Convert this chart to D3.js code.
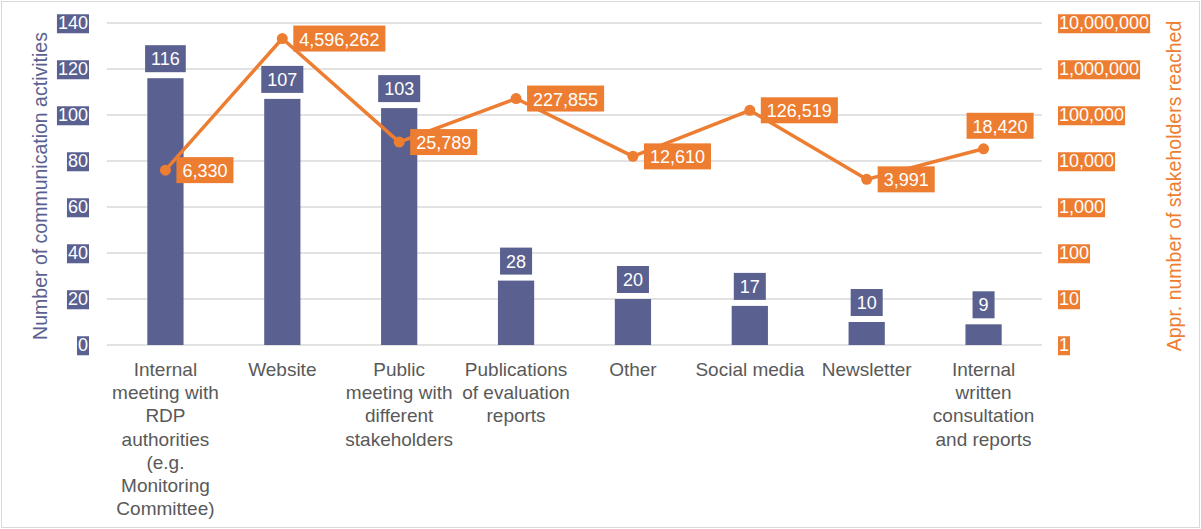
<!DOCTYPE html>
<html>
<head>
<meta charset="utf-8">
<script src="https://cdn.jsdelivr.net/npm/d3@7"></script>
<style>
  body { margin: 0; background: #fff; }
  svg { display: block; font-family: "Liberation Sans", Arial, sans-serif; }
</style>
</head>
<body>
<div id="chart"></div>
<script>
// data
var categories = [
  "Internal\nmeeting with\nRDP\nauthorities\n(e.g.\nMonitoring\nCommittee)",
  "Website",
  "Public\nmeeting with\ndifferent\nstakeholders",
  "Publications\nof evaluation\nreports",
  "Other",
  "Social media",
  "Newsletter",
  "Internal\nwritten\nconsultation\nand reports"
];
var activities = [116, 107, 103, 28, 20, 17, 10, 9];
var reached = [6330, 4596262, 25789, 227855, 12610, 126519, 3991, 18420];
var leftTicks = [0, 20, 40, 60, 80, 100, 120, 140];
var rightTicks = [1, 10, 100, 1000, 10000, 100000, 1000000, 10000000];

var W = 1201, H = 529;
var blue = "#5a6190", orange = "#ed7d31", grid = "#d9d9d9", grey = "#595959";

var svg = d3.select("#chart").append("svg").attr("width", W).attr("height", H);

// outer frame
svg.append("rect").attr("x", 1.5).attr("y", 1.5).attr("width", W - 3).attr("height", H - 3)
  .attr("fill", "#fff").attr("stroke", grid);

var plotL = 107, plotR = 1042, plotT = 23, plotB = 345;

var x = d3.scaleBand().domain(d3.range(categories.length)).range([plotL, plotR])
  .paddingInner(0.69).paddingOuter(0.345);
var y = d3.scaleLinear().domain([0, 140]).range([plotB, plotT]);
var yLog = d3.scaleLog().domain([1, 10000000]).range([plotB, plotT]);

// gridlines
svg.append("g").selectAll("line").data(leftTicks).enter().append("line")
  .attr("x1", plotL).attr("x2", plotR)
  .attr("y1", function(d) { return y(d); }).attr("y2", function(d) { return y(d); })
  .attr("stroke", grid).attr("stroke-width", 1.5);

// left axis with boxed labels
var gl = svg.append("g").attr("transform", "translate(" + 89 + ",0)")
  .call(d3.axisLeft(y).tickValues(leftTicks).tickSize(0).tickPadding(1));
gl.select(".domain").remove();
gl.selectAll("text").attr("font-size", 18).attr("fill", "#fff");
gl.attr("font-family", null);
gl.selectAll(".tick").each(function() {
  var t = d3.select(this).select("text");
  var b = t.node().getBBox();
  d3.select(this).insert("rect", "text")
    .attr("x", b.x - 1).attr("y", b.y + 1).attr("width", b.width + 2).attr("height", b.height - 1)
    .attr("fill", blue);
});

// right axis with boxed labels
var gr = svg.append("g").attr("transform", "translate(" + 1058 + ",0)")
  .call(d3.axisRight(yLog).tickValues(rightTicks).tickFormat(d3.format(",")).tickSize(0).tickPadding(1));
gr.select(".domain").remove();
gr.selectAll("text").attr("font-size", 18).attr("fill", "#fff");
gr.attr("font-family", null);
gr.selectAll(".tick").each(function() {
  var t = d3.select(this).select("text");
  var b = t.node().getBBox();
  d3.select(this).insert("rect", "text")
    .attr("x", b.x - 1).attr("y", b.y + 1).attr("width", b.width + 2).attr("height", b.height - 1)
    .attr("fill", orange);
});

// bars
svg.append("g").selectAll("rect").data(activities).enter().append("rect")
  .attr("x", function(d, i) { return x(i); })
  .attr("y", function(d) { return y(d); })
  .attr("width", x.bandwidth())
  .attr("height", function(d) { return plotB - y(d); })
  .attr("fill", blue);

// bar labels
var bl = svg.append("g").selectAll("g").data(activities).enter().append("g");
bl.each(function(d, i) {
  var g = d3.select(this);
  var cx = x(i) + x.bandwidth() / 2;
  var t = g.append("text").text(d).attr("x", cx).attr("y", y(d) - 13)
    .attr("text-anchor", "middle").attr("font-size", 18).attr("fill", "#fff");
  var b = t.node().getBBox();
  g.insert("rect", "text").attr("x", b.x - 6).attr("y", y(d) - 33)
    .attr("width", b.width + 12).attr("height", 27).attr("fill", blue);
});

// line
var px = function(i) { return x(i) + x.bandwidth() / 2; };
var line = d3.line().x(function(d, i) { return px(i); }).y(function(d) { return yLog(d); });
svg.append("path").datum(reached).attr("d", line)
  .attr("fill", "none").attr("stroke", orange).attr("stroke-width", 3.5).attr("stroke-linejoin", "round");
svg.append("g").selectAll("circle").data(reached).enter().append("circle")
  .attr("cx", function(d, i) { return px(i); }).attr("cy", function(d) { return yLog(d); })
  .attr("r", 5.5).attr("fill", orange);

// line labels
var fmt = d3.format(",");
var ll = svg.append("g").selectAll("g").data(reached).enter().append("g");
ll.each(function(d, i) {
  var g = d3.select(this);
  var cx = px(i), cy = yLog(d);
  var t = g.append("text").text(fmt(d)).attr("font-size", 18).attr("fill", "#fff");
  var w = t.node().getBBox().width + 12;
  var bx = cx + 11, by = cy - 13;
  if (bx + w > plotR + 5) { bx = cx - 17; by = cy - 36; } // no room on the right: put it above
  g.insert("rect", "text").attr("x", bx).attr("y", by).attr("width", w).attr("height", 26).attr("fill", orange);
  t.attr("x", bx + 6).attr("y", by + 20);
});

// category labels
var xl = svg.append("g").selectAll("text").data(categories).enter().append("text")
  .attr("text-anchor", "middle").attr("font-size", 19).attr("fill", grey);
xl.each(function(d, i) {
  var t = d3.select(this);
  d.split("\n").forEach(function(s, k) {
    t.append("tspan").attr("x", px(i)).attr("y", 376 + k * 23.2).text(s);
  });
});

// axis titles
svg.append("text").attr("transform", "translate(47,186) rotate(-90)")
  .attr("text-anchor", "middle").attr("font-size", 19.5).attr("fill", blue)
  .text("Number  of communication activities");
svg.append("text").attr("transform", "translate(1181,186) rotate(-90)")
  .attr("text-anchor", "middle").attr("font-size", 19.5).attr("fill", orange)
  .text("Appr. number of stakeholders reached");
</script>
</body>
</html>
